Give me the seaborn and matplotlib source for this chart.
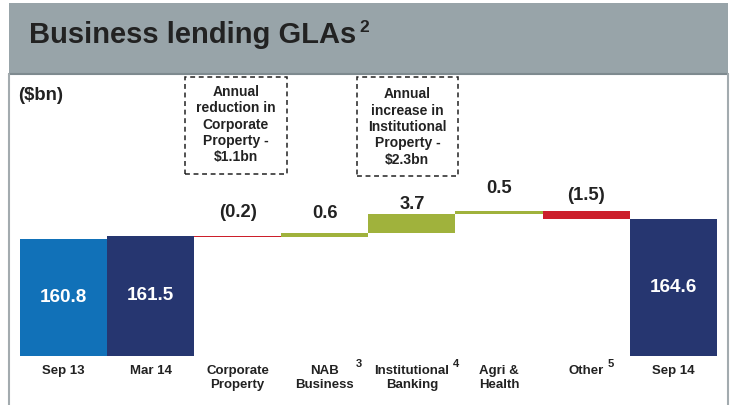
import matplotlib
matplotlib.use("Agg")
import matplotlib.pyplot as plt
from matplotlib.patches import Rectangle
from matplotlib.lines import Line2D
import seaborn as sns
import pandas as pd

# ---------------- data ----------------
categories = ["Sep 13", "Mar 14", "Corporate\nProperty", "NAB\nBusiness",
              "Institutional\nBanking", "Agri &\nHealth", "Other", "Sep 14"]
values = [160.8, 161.5, -0.2, 0.6, 3.7, 0.5, -1.5, 164.6]
is_total = [True, True, False, False, False, False, False, True]
superscripts = ["", "", "", "3", "4", "", "5", ""]
title = "Business lending GLAs"
title_sup = "2"
unit_label = "($bn)"
note1 = "Annual\nreduction in\nCorporate\nProperty -\n$1.1bn"
note2 = "Annual\nincrease in\nInstitutional\nProperty -\n$2.3bn"

# ---------------- styles ----------------
C_BLUE = "#1171B8"
C_NAVY = "#263670"
C_GREEN = "#A0B23C"
C_RED = "#CC1F2B"
TXT = "#222222"
total_colors = {0: C_BLUE, 1: C_NAVY, 7: C_NAVY}
label_lift_px = [23, 20, 9, 22, 15]     # visual lift of delta labels
sup_dx_px = {3: 34, 4: 44, 6: 25}        # superscript offsets from tick centre

# waterfall geometry from values
heights, bottoms, colors = [], [], []
running = 0.0
for i, (v, t) in enumerate(zip(values, is_total)):
    if t:
        heights.append(v)
        bottoms.append(0.0)
        running = v
        colors.append(total_colors[i])
    else:
        lo = min(running, running + v)
        heights.append(abs(v))
        bottoms.append(lo)
        running += v
        colors.append(C_GREEN if v > 0 else C_RED)

df = pd.DataFrame({"cat": categories, "h": heights})

W, H = 732, 405
sns.set_style("white")
plt.rcParams["font.family"] = ["Liberation Sans", "DejaVu Sans"]
fig = plt.figure(figsize=(W / 100, H / 100), dpi=100)


def fx(x):
    return x / W


def fy(y):
    return 1 - y / H


# header band
fig.patches.append(Rectangle((fx(9), fy(74)), fx(728) - fx(9), fy(3) - fy(74),
                             transform=fig.transFigure, facecolor="#98A4A9",
                             edgecolor="none", zorder=0))
fig.lines.append(Line2D([fx(9), fx(728)], [fy(73.5), fy(73.5)],
                        transform=fig.transFigure, color="#7E8A8F", lw=1.5))
# side border lines
for xx in (9, 727.5):
    fig.lines.append(Line2D([fx(xx), fx(xx)], [fy(74), fy(405)],
                            transform=fig.transFigure, color="#A3ABAF", lw=1.5))

t_art = fig.text(fx(29), fy(43), title, fontsize=21, fontweight="bold",
                 color=TXT, ha="left", va="baseline")
fig.add_artist(plt.Annotation(title_sup, xy=(1, 1), xycoords=t_art,
                              xytext=(2, 1), textcoords="offset points",
                              ha="left", va="top", fontsize=12.5,
                              fontweight="bold", color=TXT))
fig.text(fx(18), fy(95), unit_label, fontsize=13.3, fontweight="bold",
         color=TXT, ha="left", va="center")

# dashed note boxes
for (x0, y0, x1, y1, txt, yc) in [(185, 76.7, 286.7, 174, note1, 124.5),
                                   (356.7, 76.7, 458, 176, note2, 127)]:
    fig.patches.append(Rectangle((fx(x0), fy(y1)), fx(x1) - fx(x0), fy(y0) - fy(y1),
                                 transform=fig.transFigure, fill=False,
                                 edgecolor=TXT, lw=1.1, linestyle=(0, (3.2, 2.4))))
    fig.text(fx((x0 + x1) / 2), fy(yc), txt, fontsize=10, fontweight="bold",
             color=TXT, ha="center", va="center", linespacing=1.22)

# bars axes
y_bot_px, y_top_px = 355.7, 75
px_per_unit = 5.342
ymin = 139.0
ymax = ymin + (y_bot_px - y_top_px) / px_per_unit
ax = fig.add_axes([fx(20), fy(y_bot_px), fx(716.7) - fx(20), fy(y_top_px) - fy(y_bot_px)])
sns.barplot(data=df, x="cat", y="h", bottom=bottoms, width=1.0, color="gray",
            errorbar=None, linewidth=0, ax=ax)
for p, c in zip(ax.patches, colors):
    p.set_facecolor(c)
    p.set_edgecolor("none")

ax.set_xlim(-0.5, len(categories) - 0.5)
ax.set_ylim(ymin, ymax)
ax.set_xlabel("")
ax.set_ylabel("")
ax.set_yticks([])
for s in ax.spines.values():
    s.set_visible(False)
ax.patch.set_alpha(0)
ax.tick_params(axis="x", length=0, pad=7)
for lbl in ax.get_xticklabels():
    lbl.set_fontweight("bold")
    lbl.set_fontsize(9.5)
    lbl.set_color(TXT)
    lbl.set_linespacing(1.12)

# labels
k = 0
for i, (v, t) in enumerate(zip(values, is_total)):
    if t:
        ax.text(i, (ymin + v) / 2, f"{v:.1f}", ha="center", va="center",
                color="white", fontsize=13.6, fontweight="bold")
    else:
        top = bottoms[i] + heights[i]
        txt = f"{v:.1f}" if v > 0 else f"({abs(v):.1f})"
        ax.annotate(txt, xy=(i, top), xytext=(0, label_lift_px[k] * 0.72),
                    textcoords="offset points", ha="center", va="center",
                    fontsize=13.2, fontweight="bold", color=TXT)
        k += 1
    if superscripts[i]:
        ax.annotate(superscripts[i], xy=(i, 0), xycoords=("data", "axes fraction"),
                    xytext=(sup_dx_px[i] * 0.72, -8 * 0.72),
                    textcoords="offset points", ha="center", va="center",
                    fontsize=8, fontweight="bold", color=TXT)

fig.savefig("out.png", dpi=100)
